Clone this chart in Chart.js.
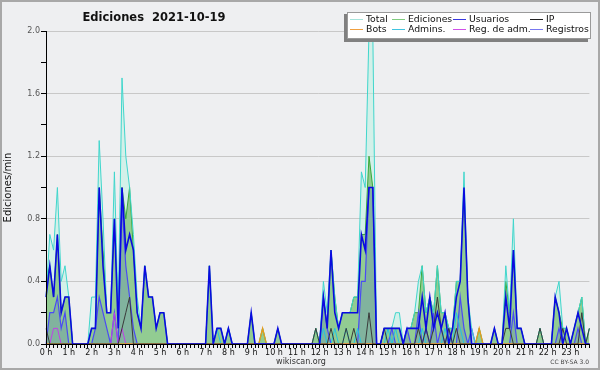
<!DOCTYPE html>
<html><head><meta charset="utf-8">
<script src="https://cdn.jsdelivr.net/npm/chart.js@4"></script>
<style>html,body{margin:0;padding:0;background:#eeeff1;}canvas{display:block;}</style>
</head><body>
<canvas id="c" width="600" height="370" style="width:600px;height:370px"></canvas>
<script>
const chartTitle = 'Ediciones  2021-10-19';
const yTitle = 'Ediciones/min';
const hourLabels = ['0 h','1 h','2 h','3 h','4 h','5 h','6 h','7 h','8 h','9 h','10 h','11 h',
  '12 h','13 h','14 h','15 h','16 h','17 h','18 h','19 h','20 h','21 h','22 h','23 h'];
const yTickValues = [0.0, 0.4, 0.8, 1.2, 1.6, 2.0];

// 10-minute slots, edits per minute
const total = [
 0.3,0.7,0.6,1.0,0.4,0.5,0.3,0,0,0,0,0,
 0.3,0.3,1.3,0.8,0.2,0.2,1.1,0.2,1.7,1.2,1.0,0.7,
 0.3,0.1,0.5,0.3,0.3,0.1,0.2,0.2,0,0,0,0,
 0,0,0,0,0,0,0,0.5,0,0.1,0.1,0,
 0.1,0,0,0,0,0,0.2,0,0,0.1,0,0,
 0,0.1,0,0,0,0,0,0,0,0,0,0.1,
 0,0.4,0.2,0.6,0.3,0.1,0.2,0.2,0.2,0.3,0.3,1.1,
 1.0,2.0,2.0,0,0,0.1,0.1,0.1,0.2,0.2,0,0.1,
 0.1,0.2,0.4,0.5,0.2,0.3,0.2,0.5,0.2,0.2,0.1,0.1,
 0.4,0.4,1.1,0.3,0.1,0,0.1,0,0,0,0.1,0,
 0,0.5,0.2,0.8,0.1,0.1,0,0,0,0,0.1,0,
 0,0,0.3,0.4,0.1,0.1,0,0.1,0.2,0.3,0,0.1];
const ediciones = [
 0.4,0.5,0.3,0.7,0.2,0.3,0.3,0,0,0,0,0,
 0.1,0.1,1.0,0.6,0.2,0.2,0.8,0.2,1.0,0.8,1.0,0.6,
 0.2,0.1,0.5,0.3,0.3,0.1,0.2,0.2,0,0,0,0,
 0,0,0,0,0,0,0,0.5,0,0.1,0.1,0,
 0.1,0,0,0,0,0,0.2,0,0,0.1,0,0,
 0,0.1,0,0,0,0,0,0,0,0,0,0.1,
 0,0.3,0.1,0.6,0.3,0.1,0.2,0.2,0.2,0.3,0.3,0.7,
 0.7,1.2,1.0,0,0,0.1,0.1,0.1,0.1,0.1,0,0.1,
 0.1,0.2,0.2,0.5,0.2,0.3,0.2,0.5,0.2,0.2,0.1,0.1,
 0.4,0.4,1.0,0.3,0,0,0.1,0,0,0,0.1,0,
 0,0.4,0.2,0.6,0.1,0.1,0,0,0,0,0.1,0,
 0,0,0.3,0.2,0.1,0.1,0,0.1,0.2,0.3,0,0.1];
const usuarios = [
 0.3,0.5,0.3,0.7,0.2,0.3,0.3,0,0,0,0,0,
 0.1,0.1,1.0,0.5,0.2,0.2,0.8,0.1,1.0,0.6,0.7,0.6,
 0.2,0.1,0.5,0.3,0.3,0.1,0.2,0.2,0,0,0,0,
 0,0,0,0,0,0,0,0.5,0,0.1,0.1,0,
 0.1,0,0,0,0,0,0.2,0,0,0,0,0,
 0,0.1,0,0,0,0,0,0,0,0,0,0,
 0,0.3,0.1,0.6,0.2,0.1,0.2,0.2,0.2,0.2,0.2,0.7,
 0.6,1.0,1.0,0,0,0.1,0.1,0.1,0.1,0.1,0,0.1,
 0.1,0.1,0.1,0.3,0.1,0.3,0.1,0.2,0.1,0.2,0,0.1,
 0.3,0.4,1.0,0.3,0,0,0,0,0,0,0.1,0,
 0,0.3,0.1,0.6,0.1,0.1,0,0,0,0,0,0,
 0,0,0.3,0.2,0,0.1,0,0.1,0.2,0.1,0,0];
const ip = [
 0.1,0,0,0,0,0,0,0,0,0,0,0,
 0,0,0,0,0,0,0,0,0.1,0.2,0.3,0,
 0,0,0,0,0,0,0,0,0,0,0,0,
 0,0,0,0,0,0,0,0,0,0,0,0,
 0,0,0,0,0,0,0,0,0,0,0,0,
 0,0,0,0,0,0,0,0,0,0,0,0.1,
 0,0,0,0.1,0,0,0,0.1,0,0.1,0,0,
 0,0.2,0,0,0,0.1,0,0,0,0,0,0,
 0,0,0.1,0,0.1,0,0.1,0.3,0.1,0,0.1,0,
 0.1,0,0,0,0,0,0,0,0,0,0,0,
 0,0.1,0.1,0,0,0,0,0,0,0,0.1,0,
 0,0,0,0,0.1,0,0,0,0,0.2,0,0.1];
const bots = [
 0,0,0,0,0,0,0,0,0,0,0,0,
 0,0,0,0,0,0,0,0,0,0,0,0,
 0,0,0,0,0,0,0,0,0,0,0,0,
 0,0,0,0,0,0,0,0,0,0,0,0,
 0,0,0,0,0,0,0,0,0,0.1,0,0,
 0,0,0,0,0,0,0,0,0,0,0,0,
 0,0,0,0,0,0,0,0,0,0,0,0,
 0,0,0,0,0,0,0,0,0,0,0,0,
 0,0,0,0,0,0,0,0,0,0,0,0,
 0,0,0,0,0,0,0.1,0,0,0,0,0,
 0,0,0,0,0,0,0,0,0,0,0,0,
 0,0,0,0,0,0,0,0,0,0,0,0];
const admins = [
 0,0,0,0,0,0,0,0,0,0,0,0,
 0,0,0,0,0,0,0,0,0,0,0,0,
 0,0,0,0,0,0,0,0,0,0,0,0,
 0,0,0,0,0,0,0,0,0,0.1,0,0,
 0.1,0,0,0,0,0,0,0,0,0,0,0,
 0,0,0,0,0,0,0,0,0,0,0,0,
 0,0.1,0,0,0.1,0,0,0.1,0,0,0.1,0,
 0,0,0,0,0,0,0.1,0,0.1,0,0,0,
 0,0,0,0.1,0,0,0,0,0,0.1,0,0,
 0.2,0.1,0,0,0,0,0,0,0,0,0,0,
 0,0,0,0,0,0,0,0,0,0,0,0,
 0,0,0,0,0,0,0,0,0,0,0,0];
const regAdm = [
 0,0,0.1,0.1,0,0,0,0,0,0,0,0,
 0,0,0,0,0,0,0.2,0,0.1,0,0,0,
 0,0,0,0,0,0,0,0,0,0,0,0,
 0,0,0,0,0,0,0,0,0,0,0,0,
 0,0,0,0,0,0,0,0,0,0,0,0,
 0,0,0,0,0,0,0,0,0,0,0,0,
 0,0,0,0,0,0,0,0,0,0,0,0,
 0,0,0,0,0,0,0,0,0,0,0,0,
 0,0,0,0,0,0,0,0,0,0,0,0,
 0,0,0,0,0,0,0,0,0,0,0,0,
 0,0,0,0,0,0,0,0,0,0,0,0,
 0,0,0,0,0,0,0,0,0,0,0,0];
const registros = [
 0,0.2,0.2,0.3,0.1,0.2,0,0,0,0,0,0,
 0,0.1,0.3,0.2,0.1,0,0.2,0,0.9,0.5,0.3,0.1,
 0,0,0,0,0,0,0,0,0,0,0,0,
 0,0,0,0,0,0,0,0,0,0,0,0,
 0,0,0,0,0,0,0,0,0,0,0,0,
 0,0,0,0,0,0,0,0,0,0,0,0,
 0,0.3,0.1,0,0,0,0,0,0,0,0,0.4,
 0.4,1.0,1.0,0,0,0,0,0.1,0,0,0,0.1,
 0,0,0.2,0,0.1,0,0.2,0,0.1,0,0.1,0,
 0,0.3,0.1,0,0.1,0,0,0,0,0,0,0,
 0,0,0,0.2,0,0,0,0,0,0,0,0,
 0,0,0,0.1,0,0,0,0,0.1,0,0,0];

const legendNames = ['Total','Ediciones','Usuarios','IP','Bots','Admins.','Reg. de adm.','Registros'];
const legendColors = ['#a6e4dc','#80cc80','#3838e0','#222222','#f0a040','#40c4e0','#d050e8','#7878f0'];

const slotLabels = total.map((_, i) => (i % 6 === 0 ? hourLabels[i / 6] : ''));

const line = (label, data, color, width, order, extra) => Object.assign({
  label, data, borderColor: color, borderWidth: width, fill: false, order,
  pointRadius: 0, tension: 0, backgroundColor: 'transparent'
}, extra || {});

const datasets = [
  line('TotalFill', total, 'transparent', 0, 20, {fill: 'origin', backgroundColor: 'rgba(190,240,225,0.55)'}),
  line('Ediciones', ediciones, '#3aa83a', 1, 19, {fill: 'origin', backgroundColor: 'rgb(146,204,146)'}),
  line('Registros', registros, '#4a4af5', 1.2, 18, {fill: 'origin', backgroundColor: 'rgba(70,90,200,0.22)'}),
  line('Total', total, '#40d6cc', 1, 17),
  line('Admins.', admins, '#22c4e0', 1, 16),
  line('Reg. de adm.', regAdm, '#c040e8', 1, 15),
  line('Bots', bots, '#e89a1a', 1.3, 14),
  line('IP', ip, '#3a3a3a', 1, 13),
  line('Usuarios', usuarios, '#0a0ae0', 1.6, 12)
];

const decor = {
  id: 'decor',
  beforeDraw(chart) {
    const c = chart.ctx;
    c.save(); c.fillStyle = '#eeeff1'; c.fillRect(0, 0, chart.width, chart.height); c.restore();
  },
  afterDraw(chart) {
    const c = chart.ctx;
    c.save();
    c.strokeStyle = '#a8a8a8'; c.lineWidth = 2;
    c.strokeRect(1, 1, chart.width - 2, chart.height - 2);
    c.fillStyle = '#111'; c.font = 'bold 11.5px "DejaVu Sans"';
    c.textAlign = 'center'; c.textBaseline = 'alphabetic';
    c.fillText(chartTitle, 154, 21);
    c.font = '8px "DejaVu Sans"'; c.fillStyle = '#333';
    c.fillText('wikiscan.org', 301, 364);
    c.font = '6px "DejaVu Sans"'; c.textAlign = 'right'; c.fillStyle = '#444';
    c.fillText('CC BY-SA 3.0', 589, 364);
    const bx = 347, by = 12, bw = 244, bh = 27;
    c.fillStyle = '#808080'; c.fillRect(bx - 3, by + 2, bw, bh + 1);
    c.fillStyle = '#ffffff'; c.fillRect(bx, by, bw, bh);
    c.strokeStyle = '#9a9a9a'; c.lineWidth = 1; c.strokeRect(bx + 0.5, by + 0.5, bw - 1, bh - 1);
    const colX = [350, 392, 453, 530];
    const rowY = [19.5, 29.5];
    c.font = '9.3px "DejaVu Sans"'; c.textAlign = 'left'; c.textBaseline = 'middle';
    legendNames.forEach((n, k) => {
      const col = k % 4, row = Math.floor(k / 4);
      const x = colX[col], y = rowY[row];
      c.strokeStyle = legendColors[k]; c.lineWidth = 1;
      c.beginPath(); c.moveTo(x, y); c.lineTo(x + 13, y); c.stroke();
      c.fillStyle = '#111'; c.fillText(n, x + 16, y);
    });
    c.restore();
  }
};

new Chart(document.getElementById('c'), {
  type: 'line',
  data: { labels: slotLabels, datasets },
  options: {
    responsive: false, animation: false, devicePixelRatio: 1,
    layout: { padding: { top: 31, right: 10.6, left: 0, bottom: 0 } },
    plugins: { legend: { display: false }, tooltip: { enabled: false }, title: { display: false } },
    scales: {
      x: {
        type: 'category', offset: false,
        grid: { display: true, drawOnChartArea: false, drawTicks: true, tickLength: 4, color: '#000', lineWidth: 1 },
        border: { display: true, color: '#000', width: 1, z: 1 },
        ticks: { autoSkip: false, maxRotation: 0, minRotation: 0, padding: 0, color: '#111',
                 font: { family: 'DejaVu Sans', size: 8 } },
        afterFit(s) { s.height = 26; }
      },
      y: {
        min: 0, max: 2,
        ticks: { stepSize: 0.2, autoSkip: false, padding: 1, color: '#555',
                 font: { family: 'DejaVu Sans', size: 8 },
                 callback: v => yTickValues.some(t => Math.abs(t - v) < 1e-6) ? Number(v).toFixed(1) : '' },
        grid: { drawTicks: true, tickLength: 5, tickColor: '#000',
                color: ctx => (ctx.tick && ctx.tick.value > 0.01 && yTickValues.some(t => Math.abs(t - ctx.tick.value) < 1e-6)) ? '#c8c8c8' : 'rgba(0,0,0,0)' },
        border: { display: true, color: '#000', width: 1, z: 1 },
        title: { display: true, text: yTitle, color: '#111', font: { family: 'DejaVu Sans', size: 10 }, padding: { top: 2, bottom: 2 } },
        afterFit(s) { s.width = 46; }
      }
    }
  },
  plugins: [decor]
});
</script>
</body></html>
